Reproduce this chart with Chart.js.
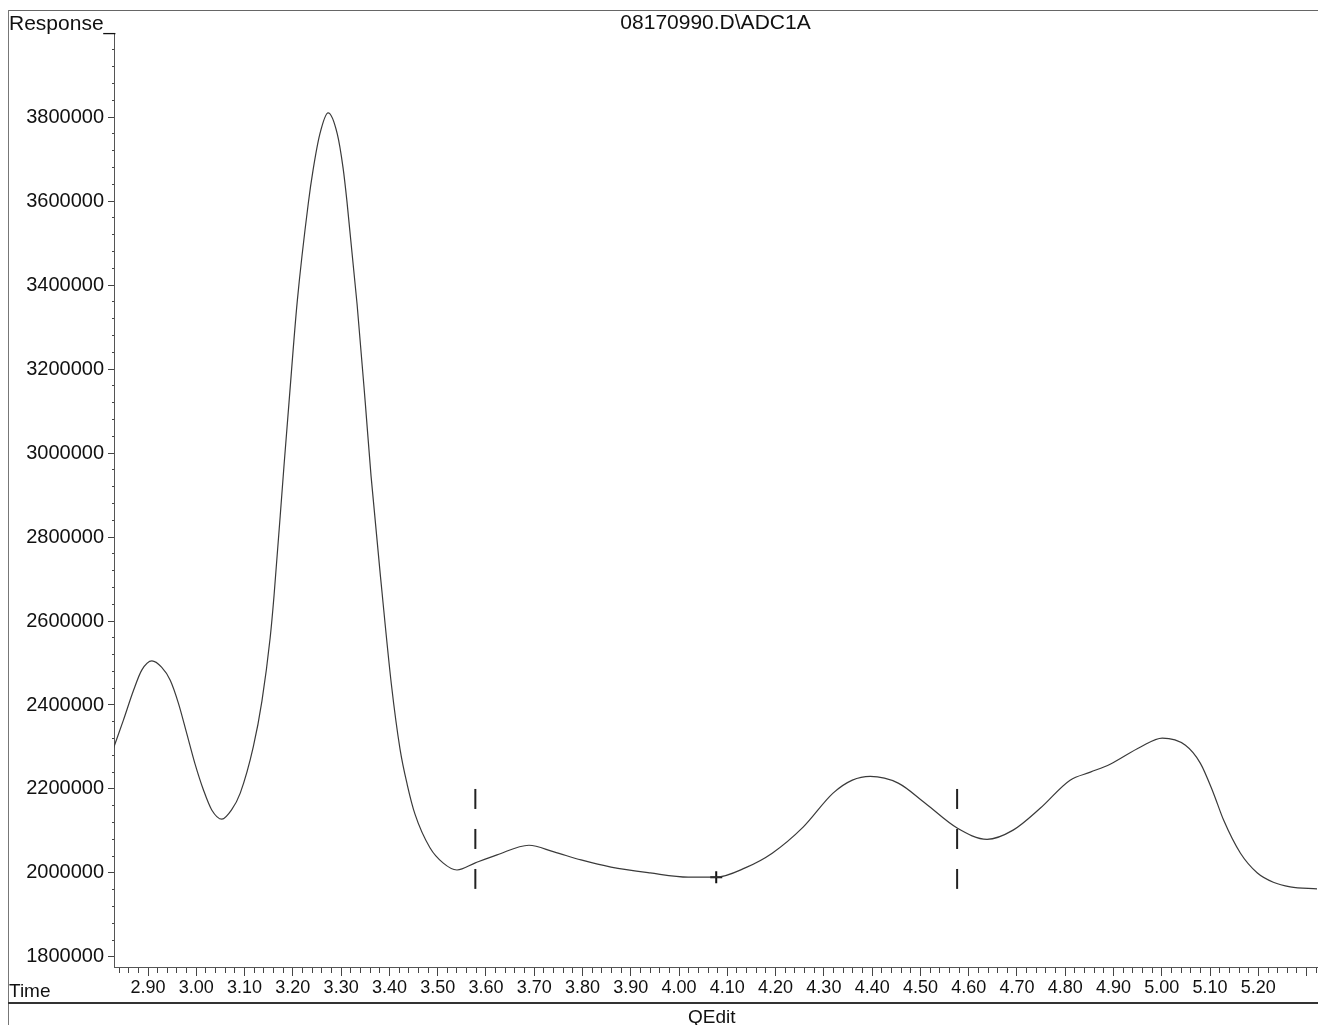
<!DOCTYPE html>
<html>
<head>
<meta charset="utf-8">
<script src="https://cdn.jsdelivr.net/npm/chart.js@4.4.1/dist/chart.umd.min.js"></script>
<style>
  html, body { margin: 0; padding: 0; background: #fff; }
  #wrap { position: relative; width: 1318px; height: 1025px; overflow: hidden; font-family: "Liberation Sans", Arial, sans-serif; color: #111; }
  #c { position: absolute; left: 0; top: 0; }
  .txt { position: absolute; white-space: nowrap; }
  .ln { position: absolute; background: #555; }
</style>
</head>
<body>
<div id="wrap">
  <canvas id="c" width="1318" height="1025"></canvas>
  <div class="ln" style="left:8px;top:10px;width:1310px;height:1px;background:#666"></div>
  <div class="ln" style="left:8px;top:10px;width:1px;height:1015px;background:#777"></div>
  <div class="ln" style="left:8px;top:1002px;width:1310px;height:2px;background:#333"></div>
  <div class="txt" style="left:9px;top:12px;font-size:21px;line-height:21px">Response_</div>
  <div class="txt" style="left:9px;top:981px;font-size:19px;line-height:19px">Time</div>
  <div class="txt" style="left:688px;top:1007px;font-size:19px;line-height:19px">QEdit</div>
</div>
<script>
// ---- data ----
const chartTitle = "08170990.D\\ADC1A";
const times = [2.828, 2.849, 2.870, 2.887, 2.908, 2.928, 2.946, 2.963, 2.980, 2.997, 3.015, 3.032, 3.053, 3.073, 3.091, 3.118, 3.136, 3.153,
  3.161, 3.182, 3.192, 3.209, 3.232, 3.242, 3.256, 3.273, 3.292, 3.304, 3.312, 3.333, 3.350, 3.362, 3.385, 3.404,
  3.422, 3.437, 3.453, 3.484, 3.511, 3.540, 3.578, 3.623, 3.689, 3.741, 3.797, 3.859, 3.940, 4.019, 4.077, 4.137,
  4.193, 4.257, 4.319, 4.359, 4.396, 4.454, 4.510, 4.576, 4.638, 4.692, 4.748, 4.810, 4.852, 4.893, 4.956, 5.001,
  5.049, 5.080, 5.107, 5.128, 5.163, 5.198, 5.231, 5.266, 5.322];
const responses = [2296000, 2364000, 2435000, 2483000, 2505000, 2490000, 2459000, 2404000, 2333000, 2261000, 2197000, 2150000, 2128000, 2150000, 2190000, 2300000, 2410000, 2560000,
  2660000, 2975000, 3120000, 3360000, 3595000, 3675000, 3760000, 3810000, 3760000, 3679000, 3600000, 3355000, 3120000, 2945000, 2665000, 2450000,
  2295000, 2210000, 2140000, 2060000, 2024000, 2007000, 2024000, 2043000, 2066000, 2050000, 2031000, 2014000, 2000000, 1990000, 1990000, 2012000,
  2047000, 2109000, 2190000, 2221000, 2230000, 2214000, 2166000, 2107000, 2080000, 2102000, 2154000, 2221000, 2240000, 2259000, 2300000, 2321000,
  2304000, 2261000, 2190000, 2126000, 2047000, 2000000, 1978000, 1967000, 1962000];
const markerTimes = [3.578, 4.576];        // dashed integration marks
const markerTop = 2200000, markerBottom = 1962000;
const crossPoint = { x: 4.077, y: 1990000 };
const xMajorTicks = [2.90, 3.00, 3.10, 3.20, 3.30, 3.40, 3.50, 3.60, 3.70, 3.80, 3.90, 4.00, 4.10, 4.20, 4.30, 4.40, 4.50, 4.60, 4.70, 4.80, 4.90, 5.00, 5.10, 5.20, 5.30];
const xTickLabels = ["2.90","3.00","3.10","3.20","3.30","3.40","3.50","3.60","3.70","3.80","3.90","4.00","4.10","4.20","4.30","4.40","4.50","4.60","4.70","4.80","4.90","5.00","5.10","5.20",""];
const yMajorTicks = [1800000, 2000000, 2200000, 2400000, 2600000, 2800000, 3000000, 3200000, 3400000, 3600000, 3800000];
const yTickLabels = ["1800000","2000000","2200000","2400000","2600000","2800000","3000000","3200000","3400000","3600000","3800000"];
const xMin = 2.8295, xMax = 5.3215, yMin = 1776000, yMax = 3998000;

// ---- axis tick lists (majors + minor subdivisions) ----
function buildTicks(majors, step, sub, lo, hi) {
  const out = [];
  const minorStep = step / sub;
  const first = majors[0] - Math.floor((majors[0] - lo) / minorStep) * minorStep;
  for (let v = first; v <= hi + 1e-9; v += minorStep) out.push(Math.round(v / minorStep) * minorStep);
  return out;
}
const xAllTicks = buildTicks(xMajorTicks, 0.1, 5, xMin, xMax);
const yAllTicks = buildTicks(yMajorTicks, 200000, 5, yMin, yMax);
function majorIndex(list, v, tol) { return list.findIndex(m => Math.abs(m - v) < tol); }

const font = "'Liberation Sans', Arial, sans-serif";
const datasets = [
  {
    data: times.map((t, i) => ({ x: t, y: responses[i] })),
    borderColor: '#3a3a3a', borderWidth: 1.2, pointRadius: 0, fill: false,
    cubicInterpolationMode: 'monotone'
  }
];
markerTimes.forEach(t => datasets.push({
  data: [{ x: t, y: markerTop }, { x: t, y: markerBottom }],
  borderColor: '#222', borderWidth: 2, borderDash: [20, 20], pointRadius: 0, fill: false
}));
datasets.push({
  data: [crossPoint], showLine: false, pointStyle: 'cross', pointRadius: 6,
  borderColor: '#111', borderWidth: 2
});

new Chart(document.getElementById('c'), {
  type: 'line',
  data: { datasets },
  options: {
    responsive: false, animation: false, devicePixelRatio: 1,
    layout: { autoPadding: false, padding: { left: 0, right: 1, top: 0, bottom: 0 } },
    plugins: {
      legend: { display: false }, tooltip: { enabled: false },
      title: {
        display: true, text: chartTitle, fullSize: false, color: '#111',
        font: { family: font, size: 21, weight: 'normal', lineHeight: 1 },
        padding: { top: 13, bottom: 0 }
      }
    },
    scales: {
      x: {
        type: 'linear', min: xMin, max: xMax, position: 'bottom',
        afterBuildTicks: s => { s.ticks = xAllTicks.map(v => ({ value: v })); },
        afterFit: s => { s.height = 58; s.paddingLeft = 0; s.paddingRight = 0; },
        ticks: {
          autoSkip: false, maxRotation: 0, minRotation: 0, padding: 1, color: '#111',
          font: { family: font, size: 18 },
          callback: v => { const i = majorIndex(xMajorTicks, v, 1e-6); return i >= 0 ? xTickLabels[i] : ''; }
        },
        grid: {
          drawOnChartArea: false, drawTicks: true, tickLength: 9, tickColor: '#444', tickWidth: 1,
          tickBorderDash: ctx => majorIndex(xMajorTicks, ctx.tick.value, 1e-6) >= 0 ? [] : [5, 100]
        },
        border: { display: true, color: '#555', width: 1 }
      },
      y: {
        type: 'linear', min: yMin, max: yMax, position: 'left',
        afterBuildTicks: s => { s.ticks = yAllTicks.map(v => ({ value: v })); },
        afterFit: s => { s.width = 114; },
        ticks: {
          autoSkip: false, padding: 4, color: '#111',
          font: { family: font, size: 20 },
          callback: v => { const i = majorIndex(yMajorTicks, v, 1); return i >= 0 ? yTickLabels[i] : ''; }
        },
        grid: {
          drawOnChartArea: false, drawTicks: true, tickLength: 6, tickColor: '#444', tickWidth: 1,
          tickBorderDash: ctx => majorIndex(yMajorTicks, ctx.tick.value, 1) >= 0 ? [] : [0, 4, 2, 100]
        },
        border: { display: true, color: '#555', width: 1 }
      }
    }
  }
});
</script>
</body>
</html>
